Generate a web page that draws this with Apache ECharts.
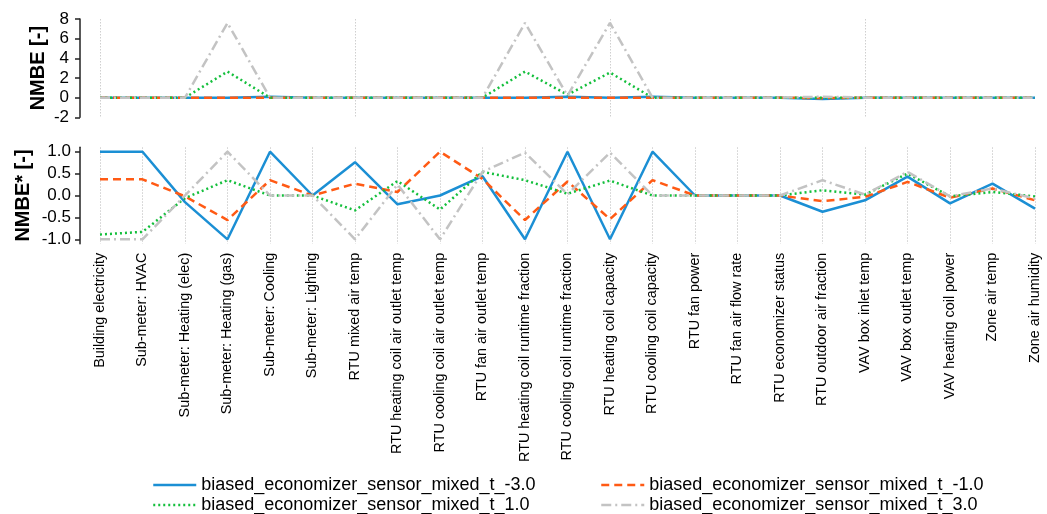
<!DOCTYPE html>
<html>
<head>
<meta charset="utf-8">
<script src="https://cdn.jsdelivr.net/npm/echarts@6/dist/echarts.min.js"></script>
<style>
html,body{margin:0;padding:0;background:#fff;}
#chart{width:1047px;height:514px;}
</style>
</head>
<body>
<div id="chart"></div>
<script>
const categories = [
  'Building electricity','Sub-meter: HVAC','Sub-meter: Heating (elec)','Sub-meter: Heating (gas)',
  'Sub-meter: Cooling','Sub-meter: Lighting','RTU mixed air temp','RTU heating coil air outlet temp',
  'RTU cooling coil air outlet temp','RTU fan air outlet temp','RTU heating coil runtime fraction',
  'RTU cooling coil runtime fraction','RTU heating coil capacity','RTU cooling coil capacity',
  'RTU fan power','RTU fan air flow rate','RTU economizer status','RTU outdoor air fraction',
  'VAV box inlet temp','VAV box outlet temp','VAV heating coil power','Zone air temp','Zone air humidity'
];
const seriesNames = [
  'biased_economizer_sensor_mixed_t_-3.0',
  'biased_economizer_sensor_mixed_t_-1.0',
  'biased_economizer_sensor_mixed_t_1.0',
  'biased_economizer_sensor_mixed_t_3.0'
];
// Top panel: NMBE [-]
const nmbeM3 = [0,0,0,0,0.1,0,0,0,0,0,0,0.08,0,0.1,0,0,0,-0.15,0,0,0,0,0];
const nmbeM1 = [0,0,0,0,0,0,0,0,0,0,0,0,0,0,0,0,0,-0.05,0,0,0,0,0];
const nmbeP1 = [0,0,0,2.65,0,0,0,0,0,0,2.65,0.3,2.55,0,0,0,0,0,0,0,0,0,0];
const nmbeP3 = [0,0,0,7.6,0,0,0,0,0,0,7.6,0.2,7.6,0,0,0,0,0.1,0,0,0,0,0];
// Bottom panel: NMBE* [-]
const nmbeStarM3 = [1.0,1.0,-0.15,-1.0,1.0,0.0,0.76,-0.2,0.0,0.44,-1.0,1.0,-1.0,1.0,0,0,0,-0.37,-0.11,0.43,-0.18,0.27,-0.30];
const nmbeStarM1 = [0.37,0.37,-0.02,-0.56,0.35,0.0,0.27,0.08,1.0,0.38,-0.56,0.32,-0.54,0.35,0,0,0,-0.13,-0.03,0.31,-0.05,0.16,-0.11];
const nmbeStarP1 = [-0.89,-0.83,-0.06,0.35,0.0,0.0,-0.34,0.33,-0.32,0.54,0.35,0.04,0.34,0.0,0,0,0,0.12,0.02,0.50,-0.02,0.08,-0.02];
const nmbeStarP3 = [-1.0,-1.0,0.0,1.0,0.0,0.0,-1.0,0.25,-1.0,0.54,0.98,0.03,0.98,0.0,0,0,0,0.35,0.02,0.54,-0.02,0.16,-0.07];
const yTopTicks = [-2,0,2,4,6,8];
const yBottomTicks = [-1.0,-0.5,0.0,0.5,1.0];

const colors = ['#1b8fd4','#ff5a14','#14bf3c','#c3c3c3'];
const dashes = ['solid',[8,5],[2,3],[10,4,2,4]];
const topData = [nmbeM3,nmbeM1,nmbeP1,nmbeP3];
const botData = [nmbeStarM3,nmbeStarM1,nmbeStarP1,nmbeStarP3];

const FONT = 'Liberation Sans, Arial, sans-serif';
const chart = echarts.init(document.getElementById('chart'), null, {renderer:'canvas'});

const series = [];
[topData, botData].forEach((set, gi) => {
  set.forEach((d, k) => {
    series.push({
      name: seriesNames[k], type: 'line', xAxisIndex: gi, yAxisIndex: gi,
      data: d, symbol: 'none', showSymbol: false,
      lineStyle: {color: colors[k], width: 2.5, type: dashes[k], cap: 'butt'},
      itemStyle: {color: colors[k]},
      emphasis: {disabled: true}, z: 2 + k
    });
  });
});

function xAxisDef(gi, showLabels){
  return {
    type: 'category', gridIndex: gi, data: categories, boundaryGap: false,
    axisLine: {show: false}, axisTick: {show: false},
    splitLine: {show: true, lineStyle: {color: '#cfcfcf', type: [1.5,1.5], width: 1}},
    axisLabel: showLabels ? {show: true, rotate: 90, interval: 0, fontFamily: FONT, fontSize: 14.4, color: '#000', margin: 9} : {show: false}
  };
}

const legendPos = [[152,476],[600,476],[152,496],[600,496]];
const legends = seriesNames.map((n, k) => ({
  data: [n], left: legendPos[k][0], top: legendPos[k][1], padding: 0,
  itemWidth: 43, itemHeight: 14, itemGap: 4, selectedMode: false,
  itemStyle: {opacity: 0, borderWidth: 0},
  lineStyle: {width: 2.5},
  textStyle: {fontFamily: FONT, fontSize: 18, color: '#000', padding: [0,0,0,0]}
}));

chart.setOption({
  animation: false,
  backgroundColor: '#fff',
  grid: [
    {left: 100, right: 12, top: 19, height: 98.3},
    {left: 100, right: 12, top: 147.3, height: 96.4}
  ],
  xAxis: [xAxisDef(0, false), xAxisDef(1, true)],
  yAxis: [
    {
      type: 'value', gridIndex: 0, min: -2, max: 8, interval: 2, offset: 20,
      name: 'NMBE [-]', nameLocation: 'middle', nameGap: 32, nameMoveOverlap: false,
      nameTextStyle: {fontFamily: FONT, fontSize: 20, fontWeight: 'bold', color: '#000'},
      axisLine: {show: true, lineStyle: {color: '#222', width: 1.5}},
      axisTick: {show: true, length: 5, lineStyle: {color: '#222', width: 1.5}},
      axisLabel: {fontFamily: FONT, fontSize: 17, color: '#000', margin: 11},
      splitLine: {show: false}
    },
    {
      type: 'value', gridIndex: 1, min: -1.1, max: 1.1, offset: 20,
      name: 'NMBE* [-]', nameLocation: 'middle', nameGap: 47, nameMoveOverlap: false,
      nameTextStyle: {fontFamily: FONT, fontSize: 20, fontWeight: 'bold', color: '#000'},
      axisLine: {show: true, lineStyle: {color: '#222', width: 1.5}},
      axisTick: {show: true, length: 5, lineStyle: {color: '#222', width: 1.5}, customValues: yBottomTicks},
      axisLabel: {fontFamily: FONT, fontSize: 17, color: '#000', margin: 9, customValues: yBottomTicks,
        formatter: v => v.toFixed(1)},
      splitLine: {show: false}
    }
  ],
  legend: legends,
  series: series
});
</script>
</body>
</html>
